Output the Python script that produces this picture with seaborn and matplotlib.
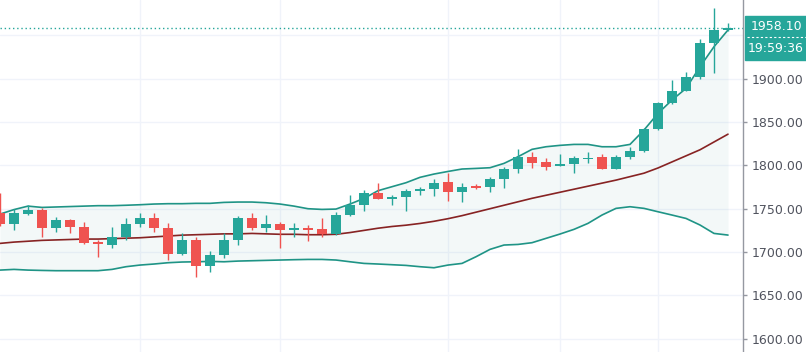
import numpy as np
import pandas as pd
import matplotlib
matplotlib.use("Agg")
import matplotlib.pyplot as plt
import seaborn as sns
from matplotlib.patches import Rectangle

# candle data, oldest -> newest
opens = [1744.6, 1732.0, 1743.8, 1748.5, 1727.3, 1736.9, 1728.5, 1711.2, 1708.1, 1717.7,
         1731.9, 1739.6, 1728.1, 1697.3, 1713.8, 1683.8, 1696.5, 1713.8, 1738.8, 1727.3,
         1732.3, 1725.0, 1727.3, 1726.5, 1720.8, 1742.3, 1754.2, 1767.7, 1761.5, 1763.8,
         1770.0, 1773.1, 1780.4, 1769.6, 1776.2, 1775.4, 1783.8, 1795.4, 1809.2, 1803.5,
         1799.2, 1801.2, 1807.7, 1809.2, 1795.8, 1810.0, 1816.5, 1841.5, 1871.5, 1886.2,
         1902.3, 1940.8, 1955.8]
highs = [1768.0, 1749.6, 1754.2, 1750.4, 1740.8, 1737.7, 1735.0, 1713.8, 1729.2, 1738.8,
         1744.6, 1745.4, 1733.1, 1721.5, 1717.7, 1701.5, 1721.5, 1741.5, 1744.6, 1742.7,
         1735.0, 1733.1, 1731.2, 1738.8, 1746.5, 1765.4, 1771.5, 1779.2, 1765.8, 1772.3,
         1775.4, 1783.8, 1790.8, 1780.0, 1778.1, 1786.9, 1798.5, 1818.5, 1815.8, 1808.1,
         1813.1, 1810.8, 1815.8, 1813.1, 1811.9, 1821.5, 1843.5, 1873.5, 1898.5, 1907.3,
         1945.4, 1981.2, 1964.6]
lows = [1730.0, 1725.4, 1742.7, 1717.7, 1723.5, 1721.5, 1709.2, 1694.6, 1704.2, 1713.8,
        1729.2, 1723.5, 1690.8, 1696.5, 1670.8, 1677.3, 1692.7, 1708.1, 1725.4, 1723.5,
        1704.2, 1717.7, 1713.0, 1717.7, 1720.0, 1741.2, 1747.7, 1760.8, 1754.2, 1747.7,
        1765.8, 1764.6, 1759.2, 1758.1, 1773.0, 1769.6, 1773.5, 1791.5, 1796.5, 1794.6,
        1799.0, 1790.8, 1802.3, 1795.4, 1795.4, 1806.9, 1816.0, 1841.0, 1871.0, 1886.0,
        1899.2, 1906.9, 1955.5]
closes = [1732.3, 1744.6, 1748.5, 1727.3, 1736.9, 1728.5, 1710.0, 1708.8, 1717.7, 1731.9,
          1739.6, 1728.1, 1697.3, 1713.8, 1683.8, 1696.5, 1713.8, 1738.8, 1728.1, 1732.3,
          1725.4, 1727.3, 1725.4, 1720.8, 1742.7, 1754.6, 1767.7, 1761.5, 1763.8, 1770.4,
          1773.1, 1780.0, 1769.6, 1775.4, 1774.2, 1783.8, 1795.4, 1809.2, 1803.1, 1798.5,
          1801.2, 1808.8, 1808.8, 1795.8, 1810.0, 1816.9, 1841.5, 1871.5, 1886.2, 1902.3,
          1940.8, 1956.2, 1958.1]

# bollinger bands
basis = [1710.0, 1711.5, 1712.5, 1713.5, 1714.0, 1714.5, 1715.0, 1715.0, 1715.5, 1716.0,
         1716.5, 1717.5, 1718.5, 1719.5, 1720.0, 1720.5, 1721.0, 1721.0, 1721.5, 1721.0,
         1720.5, 1720.5, 1720.0, 1720.0, 1720.5, 1722.5, 1725.0, 1727.5, 1729.5, 1731.0,
         1733.0, 1735.5, 1738.5, 1742.0, 1746.0, 1750.0, 1754.0, 1758.0, 1762.0, 1765.5,
         1769.0, 1772.5, 1776.0, 1779.5, 1783.0, 1787.0, 1791.0, 1797.0, 1804.0, 1811.0,
         1818.0, 1827.0, 1836.0]
upper = [1743.8, 1749.0, 1753.0, 1751.5, 1752.0, 1752.5, 1753.0, 1753.5, 1753.5, 1754.0,
         1754.6, 1755.4, 1755.8, 1755.8, 1756.2, 1756.2, 1757.3, 1757.7, 1757.7, 1756.9,
         1755.4, 1753.0, 1750.0, 1749.2, 1749.6, 1755.4, 1761.9, 1770.8, 1775.4, 1780.0,
         1786.2, 1790.0, 1793.0, 1795.8, 1796.5, 1797.3, 1802.3, 1810.0, 1818.5, 1821.5,
         1823.1, 1824.2, 1824.2, 1821.5, 1821.5, 1824.2, 1840.8, 1860.0, 1875.4, 1888.8,
         1913.8, 1936.9, 1956.2]
lower = [1679.2, 1680.0, 1679.2, 1678.8, 1678.5, 1678.5, 1678.5, 1678.5, 1680.0, 1683.1,
         1685.0, 1686.2, 1687.7, 1688.5, 1688.8, 1689.2, 1688.8, 1689.6, 1690.0, 1690.4,
         1690.8, 1691.2, 1691.5, 1691.5, 1690.8, 1688.8, 1686.9, 1686.2, 1685.4, 1684.6,
         1683.1, 1681.9, 1685.0, 1686.9, 1694.6, 1703.1, 1708.1, 1708.8, 1710.8, 1715.8,
         1720.8, 1726.2, 1733.1, 1742.7, 1750.4, 1752.3, 1750.4, 1746.5, 1742.7, 1738.8,
         1731.2, 1721.5, 1719.6]

price_ticks = [1600, 1650, 1700, 1750, 1800, 1850, 1900]
grid_prices = [1600, 1650, 1700, 1750, 1800, 1850, 1900, 1950]
grid_bars = [10, 20, 32, 40, 47]
last_price = "1958.10"
countdown = "19:59:36"

GREEN = "#26a69a"
RED = "#ef5350"

df = pd.DataFrame({"open": opens, "high": highs, "low": lows, "close": closes,
                   "basis": basis, "upper": upper, "lower": lower})
df["bar"] = np.arange(len(df))
up = df["close"] >= df["open"]
colors = np.where(up, GREEN, RED)

sns.set_style("white")
plt.rcParams["font.family"] = ["DejaVu Sans"]

W, H = 806, 352
fig = plt.figure(figsize=(W / 100, H / 100), dpi=100)
ax = fig.add_axes([0, 0, 743 / W, 1])

# grid
for p in grid_prices:
    ax.axhline(p, color="#f0f3fa", lw=1, zorder=0)
for b in grid_bars:
    ax.axvline(b, color="#f0f3fa", lw=1, zorder=0)

# bands
ax.fill_between(df["bar"], df["lower"], df["upper"], color="#198787", alpha=0.05, lw=0, zorder=1)
sns.lineplot(data=df, x="bar", y="upper", color="#1f9486", lw=1.2, ax=ax, zorder=2)
sns.lineplot(data=df, x="bar", y="lower", color="#1f9486", lw=1.2, ax=ax, zorder=2)
sns.lineplot(data=df, x="bar", y="basis", color="#872323", lw=1.2, ax=ax, zorder=2)

# candles
ax.vlines(df["bar"], df["low"], df["high"], colors=colors, lw=1, zorder=3)
body_lo = np.minimum(df["open"], df["close"])
body_h = np.maximum(np.abs(df["close"] - df["open"]), 1.0)
ax.bar(df["bar"], body_h, bottom=body_lo, width=0.72, color=colors, lw=0, zorder=4)

# last price line
ax.axhline(closes[-1], color=GREEN, lw=1, ls=(0, (1, 2)), zorder=2)

ax.set_xlim(0, 743 / 14)
ax.set_ylim(1584.7, 1990.8)
ax.set_xlabel("")
ax.set_ylabel("")
ax.set_xticks([])
ax.yaxis.tick_right()
ax.set_yticks(price_ticks)
ax.set_yticklabels([f"{p:.2f}" for p in price_ticks])
ax.tick_params(axis="y", length=3, width=1, color="#9598a1", pad=3,
               labelsize=9, labelcolor="#50535e")
for s in ["top", "left", "bottom"]:
    ax.spines[s].set_visible(False)
ax.spines["right"].set_color("#9598a1")
ax.spines["right"].set_linewidth(1)

# price / countdown label box
fig.patches.append(Rectangle((745 / W, 1 - 60 / H), 70 / W, 44 / H,
                             transform=fig.transFigure, color=GREEN, zorder=5))
fig.lines.append(plt.Line2D([747 / W, 1], [1 - 37 / H, 1 - 37 / H], transform=fig.transFigure,
                            color="white", lw=0.8, ls=(0, (2, 2)), zorder=6))
fig.text(751 / W, 1 - 26.5 / H, last_price, color="white", fontsize=9,
         va="center", ha="left", zorder=7)
fig.text(748 / W, 1 - 48.5 / H, countdown, color="white", fontsize=9,
         va="center", ha="left", zorder=7)

fig.savefig("out.png", dpi=100)
